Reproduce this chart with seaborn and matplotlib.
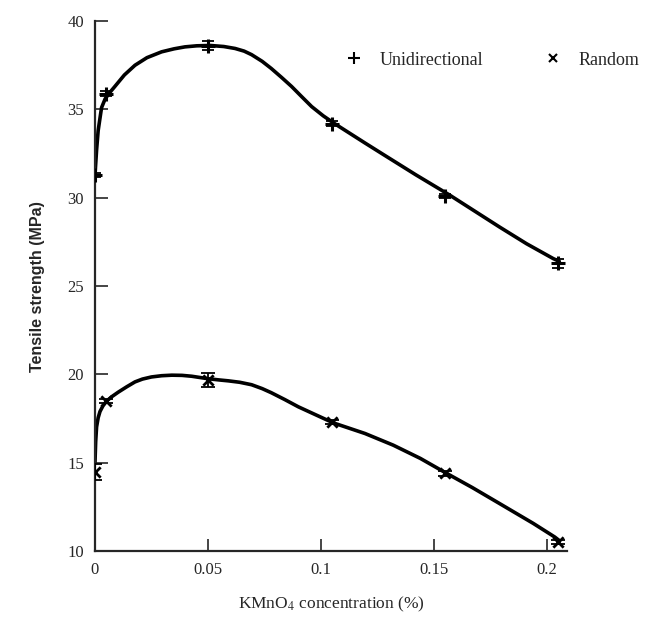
import numpy as np
import pandas as pd
import matplotlib
matplotlib.use("Agg")
import matplotlib.pyplot as plt
from matplotlib.lines import Line2D
import seaborn as sns

# ---- data ----
conc = [0.0, 0.005, 0.05, 0.105, 0.155, 0.205]
uni_strength = [31.3, 35.9, 38.6, 34.2, 30.1, 26.3]
uni_err = [0.12, 0.12, 0.25, 0.12, 0.12, 0.25]
rand_strength = [14.5, 18.5, 19.7, 17.3, 14.4, 10.5]
rand_err = [0.45, 0.12, 0.4, 0.12, 0.12, 0.12]

# smooth fitted curves
uni_curve_x = [0.0, 0.0007, 0.0014, 0.0022, 0.0029, 0.0045, 0.0065, 0.0088, 0.013,
               0.0177, 0.023, 0.0295, 0.035, 0.0398, 0.045, 0.051, 0.057, 0.062,
               0.066, 0.0693, 0.074, 0.078, 0.0825, 0.087, 0.0915, 0.0959, 0.101,
               0.106, 0.1195, 0.1276, 0.142, 0.157, 0.168, 0.179, 0.191, 0.2028,
               0.2055]
uni_curve_y = [31.3, 32.7, 33.8, 34.5, 35.1, 35.6, 35.95, 36.3, 36.95,
               37.5, 37.93, 38.26, 38.43, 38.54, 38.6, 38.62, 38.56, 38.45,
               38.3, 38.1, 37.72, 37.32, 36.82, 36.3, 35.72, 35.16, 34.64,
               34.2, 33.1, 32.45, 31.3, 30.15, 29.25, 28.35, 27.4, 26.56,
               26.4]
rand_curve_x = [0.0, 0.0003, 0.0007, 0.0014, 0.0022, 0.0035, 0.0052, 0.0075, 0.0103,
                0.014, 0.0177, 0.021, 0.025, 0.0295, 0.034, 0.0385, 0.0428, 0.05,
                0.055, 0.059, 0.064, 0.0693, 0.074, 0.078, 0.084, 0.090, 0.098,
                0.1055, 0.1195, 0.132, 0.144, 0.155, 0.167, 0.179, 0.194, 0.2035,
                0.2055]
rand_curve_y = [15.05, 16.2, 17.03, 17.55, 17.9, 18.22, 18.5, 18.75, 19.0,
                19.3, 19.58, 19.74, 19.86, 19.93, 19.96, 19.95, 19.9, 19.76,
                19.69, 19.64, 19.56, 19.42, 19.2, 18.97, 18.58, 18.17, 17.7,
                17.26, 16.66, 16.0, 15.25, 14.45, 13.6, 12.7, 11.57, 10.8,
                10.6]

x_ticks = [0, 0.05, 0.1, 0.15, 0.2]
x_tick_labels = ["0", "0.05", "0.1", "0.15", "0.2"]
y_ticks = [10, 15, 20, 25, 30, 35, 40]

sns.set_style("ticks")
plt.rcParams["font.family"] = ["Liberation Serif", "DejaVu Serif"]
plt.rcParams["mathtext.fontset"] = "stix"

fig = plt.figure(figsize=(6.52, 6.2), dpi=100)
ax = fig.add_axes([0.1457, 0.111, 0.7239, 0.855])

uni_df = pd.DataFrame({"x": uni_curve_x, "y": uni_curve_y})
rand_df = pd.DataFrame({"x": rand_curve_x, "y": rand_curve_y})
sns.lineplot(data=uni_df, x="x", y="y", ax=ax, color="black", lw=2.6, sort=False,
             estimator=None)
sns.lineplot(data=rand_df, x="x", y="y", ax=ax, color="black", lw=2.6, sort=False,
             estimator=None)
for line in ax.get_lines():
    line.set_solid_joinstyle("round")
    line.set_solid_capstyle("round")

ax.errorbar(conc, uni_strength, yerr=uni_err, fmt="none", ecolor="black",
            elinewidth=1.3, capsize=4, capthick=1.3, zorder=4)
ax.errorbar(conc, rand_strength, yerr=rand_err, fmt="none", ecolor="black",
            elinewidth=1.3, capsize=5, capthick=1.3, zorder=4)
pts_u = pd.DataFrame({"x": conc, "y": uni_strength})
pts_r = pd.DataFrame({"x": conc, "y": rand_strength})
sns.scatterplot(data=pts_u, x="x", y="y", ax=ax, marker="+", s=90, color="black",
                linewidth=2.2, zorder=5)
sns.scatterplot(data=pts_r, x="x", y="y", ax=ax, marker="x", s=55, color="black",
                linewidth=2.0, zorder=5)

ax.set_xlim(0, 0.2089)
ax.set_ylim(10, 40)
ax.set_xticks(x_ticks)
ax.set_xticklabels(x_tick_labels)
ax.set_yticks(y_ticks)
ax.tick_params(direction="in", length=9, width=1.2, labelsize=12, pad=8)
for side in ["top", "right"]:
    ax.spines[side].set_visible(False)
for side in ["left", "bottom"]:
    ax.spines[side].set_linewidth(1.6)

ax.set_xlabel(r"KMnO$_4$ concentration (%)", fontsize=12.5, labelpad=12)
ax.set_ylabel("Tensile strength (MPa)", fontsize=11.5, fontweight="bold",
              family=["Liberation Sans", "DejaVu Sans"], labelpad=16)

handles = [Line2D([], [], ls="none", marker="+", color="black", ms=8, mew=1.5),
           Line2D([], [], ls="none", marker="x", color="black", ms=6, mew=1.5)]
fig.legend(handles, ["Unidirectional", "Random"], ncol=2, frameon=False,
           loc="center", bbox_to_anchor=(0.755, 0.903), fontsize=13,
           handlelength=1.0, handletextpad=0.9, columnspacing=3.4)

fig.savefig("out.png", dpi=100)
